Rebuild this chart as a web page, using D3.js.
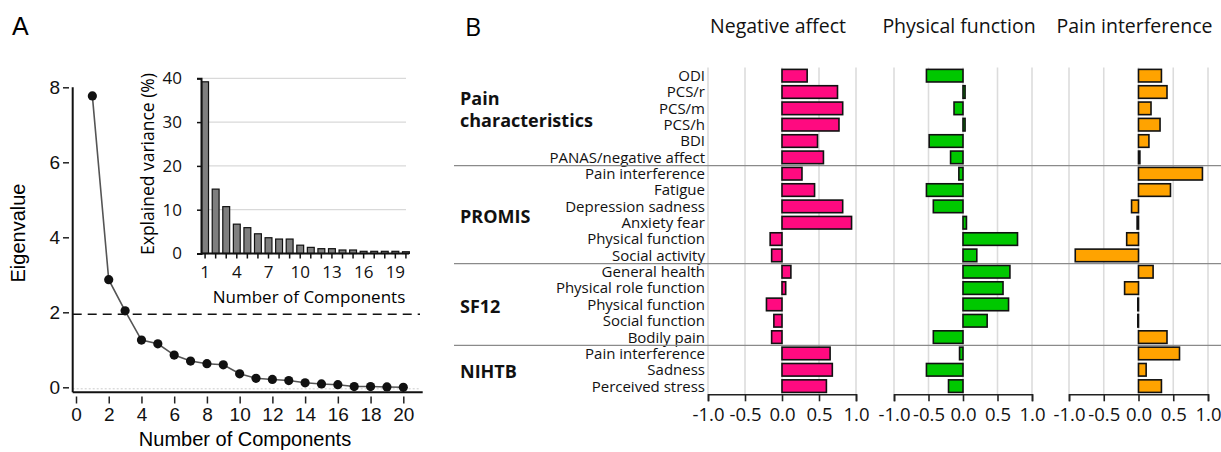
<!DOCTYPE html>
<html>
<head>
<meta charset="utf-8">
<script src="https://cdn.jsdelivr.net/npm/d3@7"></script>
<style>
  body { margin: 0; background: #fff; }
  svg { display: block; }
</style>
</head>
<body>
<svg id="chart" width="1221" height="452"></svg>
<script>
// ---- data: panel A ----
const components = d3.range(1, 21);
const eigenvalues = [7.77, 2.87, 2.04, 1.26, 1.16, 0.86, 0.70, 0.63, 0.60, 0.36,
                     0.24, 0.21, 0.18, 0.12, 0.09, 0.07, 0.02, 0.02, 0.01, 0.00];
const explainedVariance = [39.2, 14.7, 10.7, 6.7, 5.9, 4.5, 3.6, 3.3, 3.3, 1.9,
                           1.4, 1.1, 1.1, 0.8, 0.8, 0.5, 0.5, 0.5, 0.5, 0.4];
const eigenTicks = [0, 2, 4, 6, 8];
const componentTicks = [0, 2, 4, 6, 8, 10, 12, 14, 16, 18, 20];
const varianceTicks = [0, 10, 20, 30, 40];
const insetTicks = [1, 4, 7, 10, 13, 16, 19];
const cutoff = 1.95;

// ---- data: panel B ----
const measures = ["ODI", "PCS/r", "PCS/m", "PCS/h", "BDI", "PANAS/negative affect",
  "Pain interference", "Fatigue", "Depression sadness", "Anxiety fear", "Physical function", "Social activity",
  "General health", "Physical role function", "Physical function", "Social function", "Bodily pain",
  "Pain interference", "Sadness", "Perceived stress"];
const groupNames = [["Pain", "characteristics"], ["PROMIS"], ["SF12"], ["NIHTB"]];
const groupStarts = [0, 6, 12, 17];
const groupEnds = [5, 11, 16, 19];
const factorNames = ["Negative affect", "Physical function", "Pain interference"];
const negativeAffect = [0.34, 0.75, 0.82, 0.77, 0.48, 0.56, 0.27, 0.44, 0.82, 0.94,
  -0.16, -0.14, 0.12, 0.05, -0.21, -0.11, -0.14, 0.65, 0.68, 0.60];
const physicalFunction = [-0.53, 0.03, -0.13, 0.03, -0.49, -0.18, -0.06, -0.53, -0.43, 0.05,
  0.79, 0.20, 0.68, 0.58, 0.66, 0.35, -0.43, -0.05, -0.53, -0.21];
const painInterference = [0.33, 0.41, 0.18, 0.31, 0.15, 0.02, 0.92, 0.46, -0.10, -0.02,
  -0.17, -0.91, 0.21, -0.20, -0.01, -0.01, 0.41, 0.59, 0.11, 0.33];
const loadingTicks = [-1, -0.5, 0, 0.5, 1];
const factorColors = ["#ff0a80", "#00c800", "#ffa300"];

const svg = d3.select("#chart");
const armFont = "'Liberation Sans', Arial, sans-serif";
const sansFont = "'Open Sans', 'Noto Sans', sans-serif";

// panel letters
svg.append("text").attr("x", 12).attr("y", 35).attr("font-family", armFont)
  .attr("font-size", 25).text("A");
svg.append("text").attr("x", 465).attr("y", 36).attr("font-family", sansFont)
  .attr("font-size", 25).text("B");

// ================= Panel A: scree plot =================
const xA = d3.scaleLinear().domain([0, 20]).range([76, 403.3]);
const yA = d3.scaleLinear().domain([0, 8]).range([387.3, 87.3]);
const axisXLine = 392.3, axisYLine = 72.7;

const gA = svg.append("g");

// faint dotted baseline
gA.append("line")
  .attr("x1", axisYLine).attr("x2", 420)
  .attr("y1", yA(-0.04)).attr("y2", yA(-0.04))
  .attr("stroke", "#ccc").attr("stroke-dasharray", "2,2");

// y axis (ticks detached from the axis line)
const yAxisA = gA.append("g")
  .attr("transform", "translate(69,0)")
  .call(d3.axisLeft(yA).tickValues(eigenTicks).tickSize(6).tickPadding(3));
yAxisA.select(".domain").remove();

const xAxisA = gA.append("g")
  .attr("transform", "translate(0,396.5)")
  .call(d3.axisBottom(xA).tickValues(componentTicks).tickSize(7).tickPadding(4));
xAxisA.select(".domain").remove();

[yAxisA, xAxisA].forEach(g => {
  g.selectAll("text").attr("font-family", armFont).attr("font-size", 19).attr("fill", "#111");
  g.selectAll(".tick line").attr("stroke", "#222").attr("stroke-width", 1.5);
});

gA.append("line").attr("x1", axisYLine).attr("x2", axisYLine)
  .attr("y1", yA(8)).attr("y2", axisXLine).attr("stroke", "#111").attr("stroke-width", 2);
gA.append("line").attr("x1", axisYLine).attr("x2", 422.7)
  .attr("y1", axisXLine).attr("y2", axisXLine).attr("stroke", "#111").attr("stroke-width", 2);

// Kaiser cutoff
gA.append("line")
  .attr("x1", axisYLine).attr("x2", 420)
  .attr("y1", yA(cutoff)).attr("y2", yA(cutoff))
  .attr("stroke", "#111").attr("stroke-width", 1.5).attr("stroke-dasharray", "9,6");

const line = d3.line()
  .x((d, i) => xA(components[i]))
  .y(d => yA(d));

gA.append("path")
  .datum(eigenvalues)
  .attr("fill", "none")
  .attr("stroke", "#555")
  .attr("stroke-width", 1.6)
  .attr("d", line);

gA.selectAll(".dot")
  .data(eigenvalues)
  .enter()
  .append("circle")
  .attr("cx", (d, i) => xA(components[i]))
  .attr("cy", d => yA(d))
  .attr("r", 4.6)
  .attr("fill", "#111");

gA.append("text")
  .attr("x", 245).attr("y", 446)
  .attr("text-anchor", "middle")
  .attr("font-family", armFont).attr("font-size", 20)
  .text("Number of Components");

gA.append("text")
  .attr("transform", "translate(25,233) rotate(-90)")
  .attr("text-anchor", "middle")
  .attr("font-family", armFont).attr("font-size", 20)
  .text("Eigenvalue");

// ---- inset: explained variance ----
const xI = d3.scaleBand().domain(components).range([199.8, 411.2])
  .paddingInner(0.35).paddingOuter(0.175);
const yI = d3.scaleLinear().domain([0, 40]).range([253.5, 78.3]);
const gI = svg.append("g");

gI.selectAll(".grid")
  .data(varianceTicks.slice(1))
  .enter()
  .append("line")
  .attr("x1", 201).attr("x2", 406)
  .attr("y1", d => yI(d)).attr("y2", d => yI(d))
  .attr("stroke", "#d9d9d9").attr("stroke-width", 1.3);

gI.selectAll(".bar")
  .data(explainedVariance)
  .enter()
  .append("rect")
  .attr("x", (d, i) => xI(components[i]))
  .attr("y", d => yI(d))
  .attr("width", xI.bandwidth())
  .attr("height", d => yI(0) - yI(d))
  .attr("fill", "#7f7f7f")
  .attr("stroke", "#111")
  .attr("stroke-width", 1.2);

const yAxisI = gI.append("g")
  .attr("transform", "translate(201,0)")
  .call(d3.axisLeft(yI).tickValues(varianceTicks).tickSize(4).tickPadding(15));
const xAxisI = gI.append("g")
  .attr("transform", `translate(0,${yI(0)})`)
  .call(d3.axisBottom(xI).tickSize(5).tickPadding(7)
    .tickFormat(d => insetTicks.includes(d) ? d : ""));
[yAxisI, xAxisI].forEach(g => {
  g.select(".domain").attr("stroke", "#111").attr("stroke-width", 2);
  g.selectAll(".tick line").attr("stroke", "#111").attr("stroke-width", 1.5);
  g.selectAll("text").attr("font-family", sansFont).attr("font-size", 17).attr("fill", "#111");
});
xAxisI.select(".domain").attr("d", `M201,0H409`);

gI.append("text")
  .attr("x", 309).attr("y", 303)
  .attr("text-anchor", "middle")
  .attr("font-family", sansFont).attr("font-size", 17)
  .text("Number of Components");

gI.append("text")
  .attr("transform", "translate(154,164) rotate(-90)")
  .attr("text-anchor", "middle")
  .attr("font-family", sansFont).attr("font-size", 17.5)
  .text("Explained variance (%)");

// ================= Panel B: loadings =================
const yB = d3.scaleBand().domain(d3.range(measures.length)).range([67.5, 394.3])
  .paddingInner(0.23).paddingOuter(0.115);
const panelRanges = [[708, 856], [894, 1032], [1069, 1208]];
const loadings = [negativeAffect, physicalFunction, painInterference];
const gB = svg.append("g");
const rowMid = i => yB(i) + yB.bandwidth() / 2;
const gap = yB.step() * yB.paddingInner() / 2;
const rowTop = i => yB(i) - gap;
const rowBottom = i => yB(i) + yB.bandwidth() + gap;

// row labels
gB.selectAll(".rowlabel")
  .data(measures)
  .enter()
  .append("text")
  .attr("x", 705)
  .attr("y", (d, i) => rowMid(i))
  .attr("dy", "0.36em")
  .attr("text-anchor", "end")
  .attr("font-family", sansFont).attr("font-size", 15).attr("fill", "#111")
  .text(d => d);

// group labels
groupNames.forEach((lines, gi) => {
  const mid = (rowTop(groupStarts[gi]) + rowBottom(groupEnds[gi])) / 2;
  const top = lines.length > 1 ? mid - 18 : mid + 2;
  lines.forEach((txt, li) => {
    gB.append("text")
      .attr("x", 460)
      .attr("y", top + li * 22)
      .attr("dy", "0.36em")
      .attr("font-family", sansFont).attr("font-weight", 700).attr("font-size", 18)
      .attr("fill", "#111")
      .text(txt);
  });
});

loadings.forEach((values, k) => {
  const x = d3.scaleLinear().domain([-1, 1]).range(panelRanges[k]);
  const g = gB.append("g");

  g.selectAll(".grid")
    .data(loadingTicks)
    .enter()
    .append("line")
    .attr("x1", d => x(d)).attr("x2", d => x(d))
    .attr("y1", 67.5).attr("y2", 394.3)
    .attr("stroke", "#dcdcdc").attr("stroke-width", 1.6);

  g.selectAll(".bar")
    .data(values)
    .enter()
    .append("rect")
    .attr("x", d => x(Math.min(0, d)))
    .attr("y", (d, i) => yB(i))
    .attr("width", d => Math.abs(x(d) - x(0)))
    .attr("height", yB.bandwidth())
    .attr("fill", factorColors[k])
    .attr("stroke", "#111")
    .attr("stroke-width", 1.6);

  const ax = g.append("g")
    .attr("transform", "translate(0,394.3)")
    .call(d3.axisBottom(x).tickValues(loadingTicks).tickSize(7).tickPadding(7)
      .tickFormat(d => d.toFixed(1)));
  ax.select(".domain").attr("stroke", "#222").attr("stroke-width", 1.6);
  ax.selectAll(".tick line").attr("stroke", "#222").attr("stroke-width", 1.6);
  ax.selectAll("text").attr("font-family", sansFont).attr("font-size", 18.5).attr("fill", "#111");

  g.append("text")
    .attr("x", (panelRanges[k][0] + panelRanges[k][1]) / 2 - 4)
    .attr("y", 33)
    .attr("text-anchor", "middle")
    .attr("font-family", sansFont).attr("font-size", 19.5)
    .attr("fill", "#111")
    .text(factorNames[k]);
});

// group separators
groupStarts.slice(1).forEach(s => {
  gB.append("line")
    .attr("x1", 454).attr("x2", 1221)
    .attr("y1", rowTop(s)).attr("y2", rowTop(s))
    .attr("stroke", "#8a8a8a").attr("stroke-width", 1.3);
});
</script>
</body>
</html>
